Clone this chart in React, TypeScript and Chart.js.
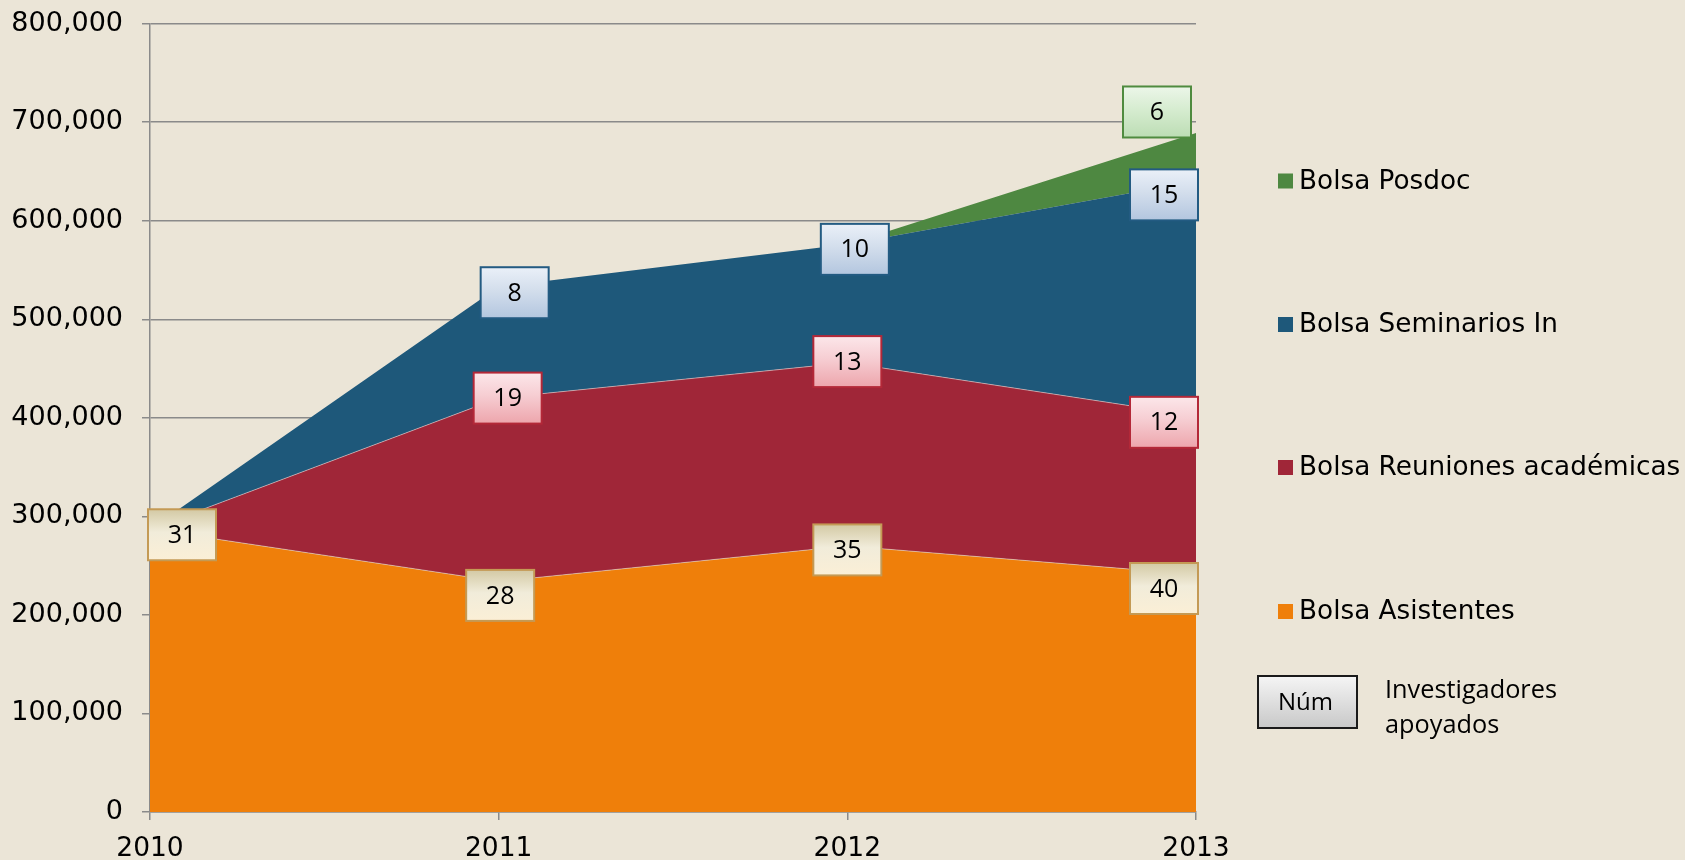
import React, { useEffect, useRef } from "react";
import { Chart, registerables } from "chart.js";

Chart.register(...registerables);

// ---- data ----
const YEARS = [2010, 2011, 2012, 2013];
const ASISTENTES = [287000, 234000, 270000, 241000];
const REUNIONES = [0, 186000, 186000, 161000];
const SEMINARIOS = [0, 113000, 120000, 238000];
const POSDOC = [0, 0, 0, 49000];

// number of supported researchers (labels)
const N_ASISTENTES = [31, 28, 35, 40];
const N_REUNIONES = [null, 19, 13, 12];
const N_SEMINARIOS = [null, 8, 10, 15];
const N_POSDOC = [null, null, null, 6];

const SERIES_NAMES = [
  "Bolsa Asistentes",
  "Bolsa Reuniones académicas",
  "Bolsa Seminarios In",
  "Bolsa Posdoc",
];
const Y_MIN = 0;
const Y_MAX = 800000;
const Y_STEP = 100000;
const KEY_BOX_TEXT = "Núm";
const KEY_TEXT = ["Investigadores", "apoyados"];

// ---- styles ----
const BG = "#EBE5D7";
const COLORS = ["#EF7F0A", "#A02638", "#1E587A", "#4E8841"];
const LABEL_STYLE = [
  { border: "#C49A55", top: "#D3C9A4", mid: "#F1ECDA", bottom: "#FBEFD6" },
  { border: "#B32838", top: "#FCE7EA", mid: "#F6CDD2", bottom: "#EDA5AC" },
  { border: "#235B82", top: "#EAF0F8", mid: "#D3DEEC", bottom: "#B3C6DF" },
  { border: "#4F8B3F", top: "#ECF6E9", mid: "#D6ECD0", bottom: "#BCDDB4" },
];
// per-label nudges [dx, dy] in px (placement only)
const LABEL_SHIFT = [
  [[0, 5.6], [1.5, 14], [0, 4], [0, 14]],
  [null, [9, 0], [0, -1], [0, 6.5]],
  [null, [16, 6], [7.5, 5], [0, 13.6]],
  [null, null, null, [-7, -21]],
];

export default function App() {
  const ref = useRef<HTMLCanvasElement | null>(null);

  useEffect(() => {
    document.body.style.margin = "0";
    const canvas = ref.current;
    if (!canvas) return;

    const values = [ASISTENTES, REUNIONES, SEMINARIOS, POSDOC];
    const counts = [N_ASISTENTES, N_REUNIONES, N_SEMINARIOS, N_POSDOC];

    const bgPlugin = {
      id: "bg",
      beforeDraw(chart: any) {
        const c = chart.ctx;
        c.save();
        c.fillStyle = BG;
        c.fillRect(0, 0, chart.width, chart.height);
        c.restore();
      },
    };

    const labelPlugin = {
      id: "numLabels",
      afterDatasetsDraw(chart: any) {
        const c = chart.ctx;
        const area = chart.chartArea;
        const W = 68;
        const H = 51;
        c.save();
        for (let i = 0; i < counts.length; i++) {
          const meta = chart.getDatasetMeta(i);
          const st = LABEL_STYLE[i];
          counts[i].forEach((n, j) => {
            if (n === null || n === undefined) return;
            const pt = meta.data[j];
            const sh = LABEL_SHIFT[i][j] || [0, 0];
            let cx = Math.min(Math.max(pt.x, area.left + W / 2 - 2), area.right - W / 2 + 2);
            cx += sh[0];
            const cy = pt.y + sh[1];
            const x0 = cx - W / 2;
            const y0 = cy - H / 2;
            const g = c.createLinearGradient(0, y0, 0, y0 + H);
            g.addColorStop(0, st.top);
            g.addColorStop(0.45, st.mid);
            g.addColorStop(1, st.bottom);
            c.fillStyle = g;
            c.fillRect(x0, y0, W, H);
            c.lineWidth = 2;
            c.strokeStyle = st.border;
            c.strokeRect(x0, y0, W, H);
            c.fillStyle = "#000";
            c.font = "25px 'Open Sans'";
            c.textAlign = "center";
            c.textBaseline = "middle";
            c.fillText(String(n), cx, cy + 1);
          });
        }
        c.restore();
      },
    };

    const legendPlugin = {
      id: "customLegend",
      afterDraw(chart: any) {
        const c = chart.ctx;
        c.save();
        const rows = [181, 324.5, 467.5, 611.5];
        const order = [3, 2, 1, 0];
        c.font = "26.3px 'DejaVu Sans'";
        c.textAlign = "left";
        c.textBaseline = "middle";
        order.forEach((si, k) => {
          const y = rows[k];
          c.fillStyle = COLORS[si];
          c.fillRect(1278, y - 7.5, 15, 15);
          c.fillStyle = "#000";
          c.fillText(SERIES_NAMES[si], 1299, y + 1);
        });
        // key box
        const bx = 1258, by = 676, bw = 99, bh = 52;
        const g = c.createLinearGradient(0, by, 0, by + bh);
        g.addColorStop(0, "#F5F5F5");
        g.addColorStop(1, "#C8C8C8");
        c.fillStyle = g;
        c.fillRect(bx, by, bw, bh);
        c.lineWidth = 2;
        c.strokeStyle = "#1A1A1A";
        c.strokeRect(bx, by, bw, bh);
        c.fillStyle = "#000";
        c.font = "24px 'Open Sans'";
        c.textAlign = "center";
        c.textBaseline = "middle";
        c.fillText(KEY_BOX_TEXT, bx + bw / 2 - 2, by + bh / 2 + 1);
        c.textAlign = "left";
        c.textBaseline = "alphabetic";
        c.font = "25.3px 'Open Sans'";
        c.fillText(KEY_TEXT[0], 1385, 698);
        c.fillText(KEY_TEXT[1], 1385, 733);
        c.restore();
      },
    };

    const datasets = values.map((arr, i) => ({
      label: SERIES_NAMES[i],
      data: YEARS.map((yr, j) => ({ x: yr, y: arr[j] })),
      backgroundColor: COLORS[i],
      borderColor: i < 2 ? "rgba(225,225,225,0.55)" : COLORS[i],
      borderWidth: i < 2 ? 1 : 0,
      pointRadius: 0,
      tension: 0,
      fill: i === 0 ? "origin" : "-1",
    }));

    const chart = new Chart(canvas, {
      type: "line",
      data: { datasets },
      plugins: [bgPlugin, labelPlugin, legendPlugin],
      options: {
        animation: false,
        responsive: false,
        devicePixelRatio: 1,
        layout: { padding: { left: 0, right: 489, top: 23.6, bottom: 0 } },
        plugins: { legend: { display: false }, tooltip: { enabled: false } },
        scales: {
          x: {
            type: "linear",
            min: YEARS[0],
            max: YEARS[YEARS.length - 1],
            ticks: {
              stepSize: 1,
              callback: (v: any) => String(v),
              color: "#000",
              font: { family: "'DejaVu Sans'", size: 26.5 },
              padding: 13,
              maxRotation: 0,
            },
            grid: { drawOnChartArea: false, drawTicks: true, tickLength: 8, color: "#8A8A8A", lineWidth: 1.5 },
            border: { color: "#8A8A8A", width: 1.5 },
            afterFit: (s: any) => { s.height = 48; s.paddingLeft = 0; s.paddingRight = 0; },
          },
          y: {
            stacked: true,
            min: Y_MIN,
            max: Y_MAX,
            ticks: {
              stepSize: Y_STEP,
              callback: (v: any) => Number(v).toLocaleString("en-US"),
              color: "#000",
              font: { family: "'DejaVu Sans'", size: 27 },
              padding: 19,
            },
            grid: { color: "#8A8A8A", lineWidth: 1.5, tickLength: 8 },
            border: { color: "#8A8A8A", width: 1.5 },
            afterFit: (s: any) => { s.width = 150; s.paddingTop = 0; s.paddingBottom = 0; },
          },
        },
      },
    });
    return () => chart.destroy();
  }, []);

  return (
    <div style={{ width: 1685, height: 860 }}>
      <canvas ref={ref} width={1685} height={860} style={{ display: "block" }} />
    </div>
  );
}
